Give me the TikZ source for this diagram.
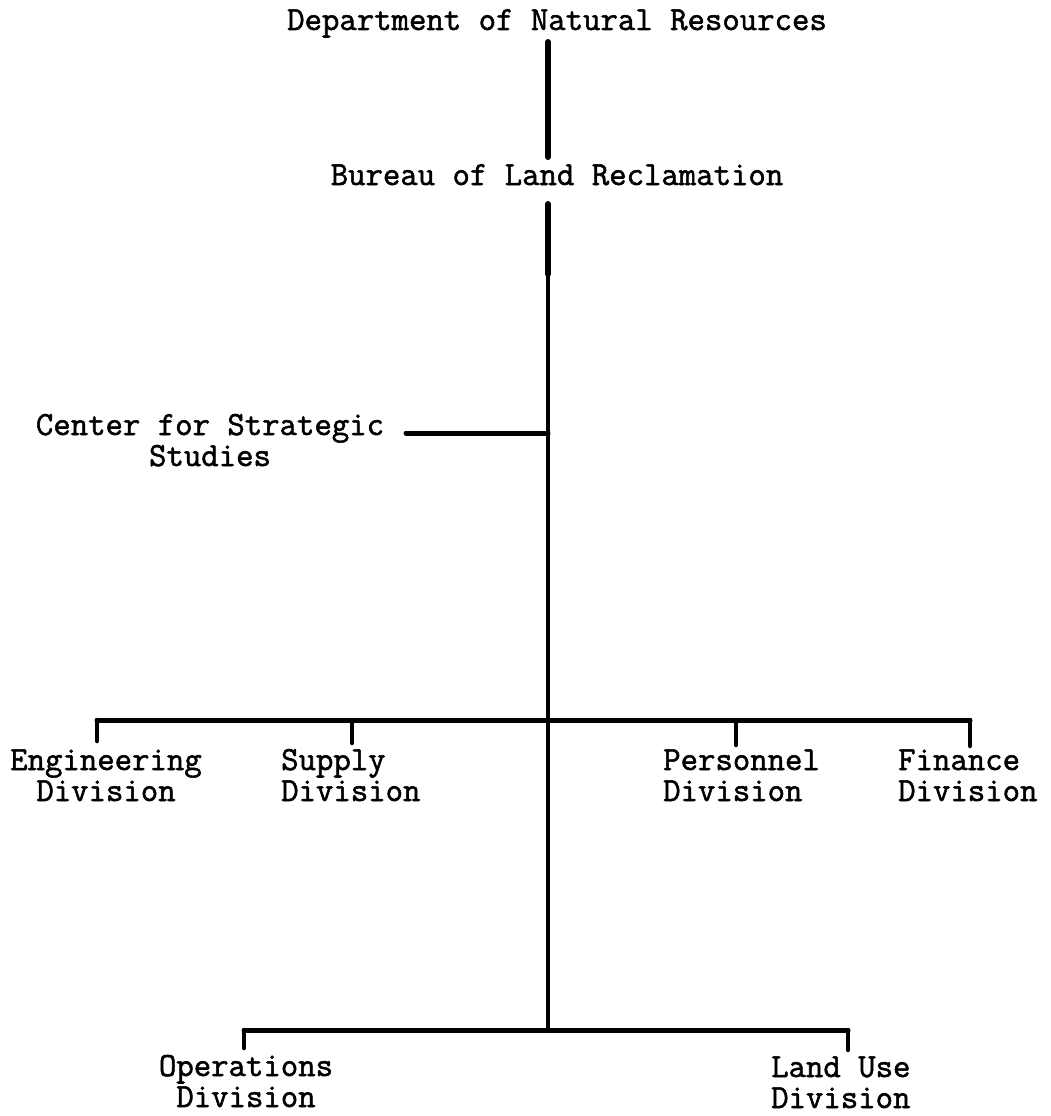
\documentclass[tikz,border=0pt]{standalone}
\usepackage{fontspec}
\newfontfamily\typew{Latin Modern Mono}[FakeBold=1.6]
\begin{document}
\begin{tikzpicture}[x=1pt,y=-1pt,
  lbl/.style={font=\typew\fontsize{33.8}{31}\selectfont, inner sep=0pt, align=center, anchor=base},
  lbll/.style={lbl, align=left, anchor=base west},
  conn/.style={line width=4.5pt, line cap=round},
  bar/.style={line width=5pt, line cap=round}]
\path[use as bounding box, fill=white] (0,0) rectangle (1050,1116);
% labels (base anchor = baseline of the last line)
\node[lbl] (dept) at (557,30) {Department of Natural Resources};
\node[lbl] (bureau) at (557,185) {Bureau of Land Reclamation};
\node[lbl] (css) at (210,466) {Center for Strategic\\Studies};
\node[lbl] (eng) at (106,801) {Engineering\\Division};
\node[lbll] (sup) at (281,801) {Supply\\Division};
\node[lbll] (per) at (663,801) {Personnel\\Division};
\node[lbll] (fin) at (898,801) {Finance\\Division};
\node[lbl] (ops) at (246,1107) {Operations\\Division};
\node[lbll] (land) at (771,1108) {Land Use\\Division};
% junctions
\coordinate (a1) at (548,42);
\coordinate (a2) at (548,157);
\coordinate (b1) at (548,204);
\coordinate (j1) at (548,433);
\coordinate (j2) at (548,720);
\coordinate (j3) at (548,1030);
\coordinate (c1) at (406,433);
\coordinate (e0) at (97,720);
\coordinate (s0) at (352,720);
\coordinate (p0) at (736,720);
\coordinate (f0) at (970,720);
\coordinate (o0) at (244,1030);
\coordinate (l0) at (848,1030);
% connectors
\draw[line width=6pt, line cap=round] (a1) -- (a2);
\draw[conn] (b1) -- (j3);
\draw[line width=6pt, line cap=round] (b1) -- ++(0,70);
\draw[bar] (c1) -- (j1);
\draw[bar] (e0) -- (f0);
\draw[conn] (e0) -- ++(0,21);
\draw[conn] (s0) -- ++(0,23);
\draw[conn] (p0) -- ++(0,25);
\draw[conn] (f0) -- ++(0,26);
\draw[bar] (o0) -- (l0);
\draw[conn] (o0) -- ++(0,18);
\draw[conn] (l0) -- ++(0,20);
\end{tikzpicture}
\end{document}
